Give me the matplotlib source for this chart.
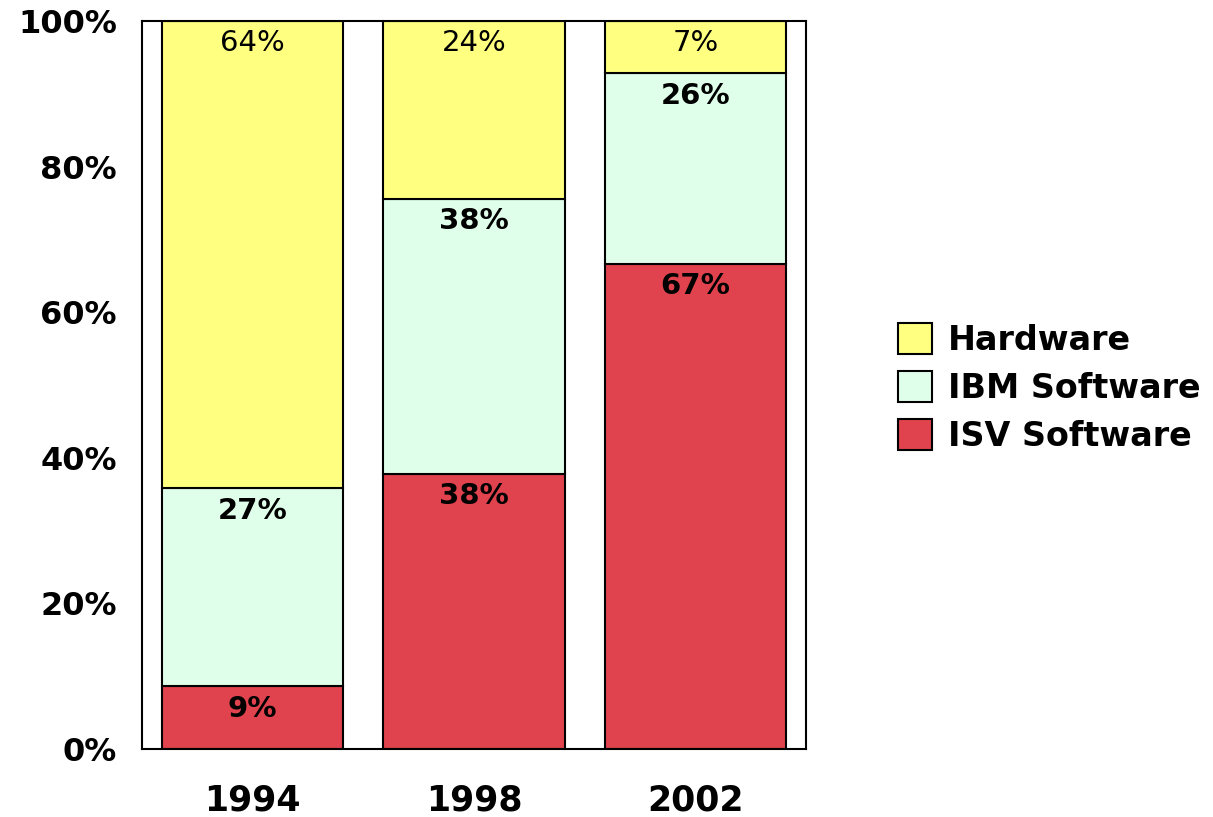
import matplotlib.pyplot as plt
import numpy as np

# dados (percentual de cada componente por ano)
anos = ['1994', '1998', '2002']
isv_software = [8.6, 37.8, 66.6]
ibm_software = [27.2, 37.8, 26.2]
hardware = [64.2, 24.4, 7.2]

series = ['ISV Software', 'IBM Software', 'Hardware']
cores = {'Hardware': '#FFFF80', 'IBM Software': '#E0FFEA', 'ISV Software': '#E0434D'}

plt.rcParams['font.family'] = ['DejaVu Sans']

fig = plt.figure(figsize=(12.13, 8.17), dpi=100)
ax = fig.add_axes([0.117, 0.0832, 0.5475, 0.8911])

x = np.arange(len(anos))
largura = 0.82
base = np.zeros(len(anos))
valores = {'ISV Software': isv_software, 'IBM Software': ibm_software, 'Hardware': hardware}
barras = {}
for nome in series:
    v = np.array(valores[nome])
    barras[nome] = ax.bar(x, v, largura, bottom=base, color=cores[nome],
                          edgecolor='black', linewidth=1.5, label=nome)
    for xi, b, vi in zip(x, base, v):
        ax.annotate(f'{vi:.0f}%', (xi, b + vi), xytext=(0, -16), textcoords='offset points',
                    ha='center', va='center', fontsize=21,
                    fontweight='normal' if nome == 'Hardware' else 'bold')
    base = base + v

ax.set_xlim(-0.5, 2.5)
ax.set_ylim(0, 100)
ax.set_yticks([0, 20, 40, 60, 80, 100])
ax.set_yticklabels([f'{t}%' for t in [0, 20, 40, 60, 80, 100]], fontsize=23, fontweight='bold')
ax.set_xticks(x)
ax.set_xticklabels(anos, fontsize=25, fontweight='bold')
ax.tick_params(axis='y', length=0, pad=18)
ax.tick_params(axis='x', length=0, pad=25)
for s in ax.spines.values():
    s.set_linewidth(1.5)

handles = [barras['Hardware'], barras['IBM Software'], barras['ISV Software']]
fig.legend(handles, ['Hardware', 'IBM Software', 'ISV Software'],
           loc='center left', bbox_to_anchor=(0.740, 0.525), frameon=False,
           prop={'size': 24, 'weight': 'bold'}, handlelength=1.02, handleheight=1.05,
           handletextpad=0.48, labelspacing=0.42, borderpad=0, borderaxespad=0)

fig.savefig('out.png', dpi=100)
